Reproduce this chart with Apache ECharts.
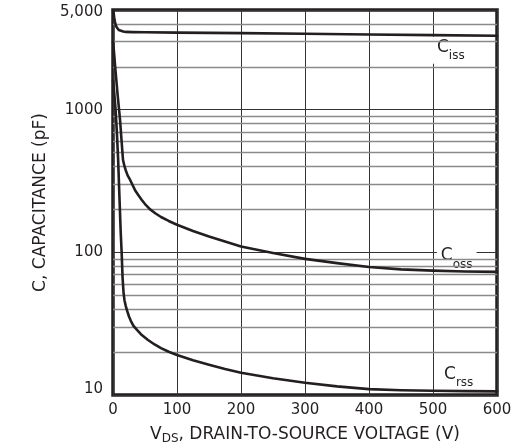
<!DOCTYPE html>
<html><head><meta charset="utf-8">
<script src="https://cdn.jsdelivr.net/npm/echarts@6/dist/echarts.min.js"></script>
<style>html,body{margin:0;padding:0;background:#fff}#c{width:518px;height:444px}</style>
</head><body><div id="c"></div>
<script>
// Axis values
const xTicks = [0, 100, 200, 300, 400, 500, 600];
const yMinor = [20, 30, 40, 50, 60, 70, 80, 90, 200, 300, 400, 500, 600, 700, 800, 900, 2000, 3000, 4000];

// Ciss
const cissV = [0, 1, 2, 3, 4, 5.5, 7, 9, 12, 16, 20, 30, 50, 100, 200, 300, 400, 500, 600];
const cissC = [5000, 4750, 4400, 4150, 3950, 3800, 3700, 3620, 3560, 3530, 3510, 3500, 3490, 3470, 3440, 3410, 3370, 3335, 3300];
// Coss
const cossV = [0, 1, 2, 3, 5, 7, 9, 11, 13, 15.6, 18, 20, 23, 26.6, 30, 35, 40, 45, 50, 58, 66, 75, 87, 100, 125, 150, 175, 200, 250, 300, 350, 400, 450, 500, 550, 600];
const cossC = [3000, 2700, 2400, 2100, 1650, 1300, 1050, 850, 640, 446, 400, 375, 345, 323, 300, 270, 250, 233, 218, 200, 188, 177, 166, 156, 141, 129, 119, 110, 99, 90, 84, 79, 76, 74.5, 73.5, 73];
// Crss
const crssV = [0, 2, 4, 6, 8, 10, 12, 13.5, 15, 16.5, 18, 20, 22, 25, 28, 32, 37.5, 45, 54.7, 65, 75, 87, 100, 125, 150, 175, 200, 250, 300, 350, 400, 450, 500, 550, 600];
const crssC = [1600, 1300, 1000, 700, 450, 250, 140, 100, 66, 52, 46, 42, 39, 35.5, 33, 30.5, 28.6, 26.3, 24.3, 22.6, 21.3, 20.1, 19.1, 17.5, 16.3, 15.2, 14.3, 13.1, 12.2, 11.5, 11.0, 10.8, 10.7, 10.65, 10.6];

// Curve label anchors (V, C)
const labelNames = ['iss', 'oss', 'rss'];
const labelV = [500, 506, 511];
const labelC = [2615, 90, 13.2];

const ink = '#231f20';
const font = 'DejaVu Sans';
const zip = (a, b) => a.map((v, i) => [v, b[i]]);

const chart = echarts.init(document.getElementById('c'));
const curve = (name, V, C) => ({
  name, type: 'line', data: zip(V, C), showSymbol: false, symbol: 'none',
  smooth: false, z: 5, silent: true,
  lineStyle: { color: ink, width: 2.6, join: 'round', cap: 'round' }
});

chart.setOption({
  animation: false,
  backgroundColor: '#fff',
  grid: { left: 113, right: 21, top: 10, bottom: 49, outerBoundsMode: 'none', containLabel: false,
    show: true, borderColor: ink, borderWidth: 3.5, backgroundColor: 'transparent' },
  xAxis: {
    type: 'value', min: xTicks[0], max: xTicks[xTicks.length - 1], interval: 100,
    axisLine: { show: false }, axisTick: { show: false },
    axisLabel: { fontFamily: font, fontSize: 15, color: ink, margin: 8 },
    splitLine: { show: true, lineStyle: { color: '#333', width: 1 } },
    name: '{v|V}{s|DS}{t|, DRAIN-TO-SOURCE VOLTAGE (V)}',
    nameLocation: 'middle', nameGap: 31,
    nameTextStyle: {
      color: ink, fontFamily: font,
      rich: {
        v: { fontSize: 17, fontFamily: font, color: ink, lineHeight: 19, verticalAlign: 'top' },
        s: { fontSize: 12, fontFamily: font, color: ink, lineHeight: 19, verticalAlign: 'bottom' },
        t: { fontSize: 17, fontFamily: font, color: ink, lineHeight: 19, verticalAlign: 'top' }
      }
    }
  },
  yAxis: {
    type: 'log', logBase: 10, min: 10, max: 5000,
    axisLine: { show: false }, axisTick: { show: false },
    axisLabel: { fontFamily: font, fontSize: 15, color: ink, margin: 10,
      formatter: v => {
        const r = Math.round(v);
        if (r === 5000) return '{hi|5,000}';
        if (r === 10) return '{lo|10}';
        return String(r);
      },
      rich: {
        hi: { fontFamily: font, fontSize: 15, color: ink, padding: [5, 0, 0, 0] },
        lo: { fontFamily: font, fontSize: 15, color: ink, padding: [0, 0, 12, 0] }
      }
    },
    splitLine: { show: true, lineStyle: { color: '#333', width: 1 } },
    minorTick: { show: false }, minorSplitLine: { show: false },
    name: 'C, CAPACITANCE (pF)', nameLocation: 'middle', nameGap: 63,
    nameTextStyle: { color: ink, fontFamily: font, fontSize: 17 }
  },
  series: [
    {
      type: 'line', data: [], z: 1, silent: true,
      markLine: {
        silent: true, symbol: 'none', animation: false,
        label: { show: false },
        lineStyle: { color: '#8a8a8a', width: 1.3, type: 'solid' },
        data: yMinor.map(v => ({ yAxis: v }))
      }
    },
    curve('Ciss', cissV, cissC),
    curve('Coss', cossV, cossC),
    curve('Crss', crssV, crssC),
    {
      type: 'scatter', z: 3, silent: true, symbolSize: 0,
      itemStyle: { opacity: 1 },
      data: labelNames.map((n, i) => ({ value: [labelV[i], labelC[i]], name: n })),
      label: {
        show: true, position: 'right', distance: 0, opacity: 1,
        formatter: p => '{a|C}{b|' + p.name + '}',
        backgroundColor: '#fff', padding: [2, 4, 2, 4],
        rich: {
          a: { fontSize: 17, fontFamily: font, color: ink, lineHeight: 23, verticalAlign: 'top' },
          b: { fontSize: 12, fontFamily: font, color: ink, lineHeight: 23, verticalAlign: 'bottom' }
        }
      }
    }
  ]
});
</script></body></html>
